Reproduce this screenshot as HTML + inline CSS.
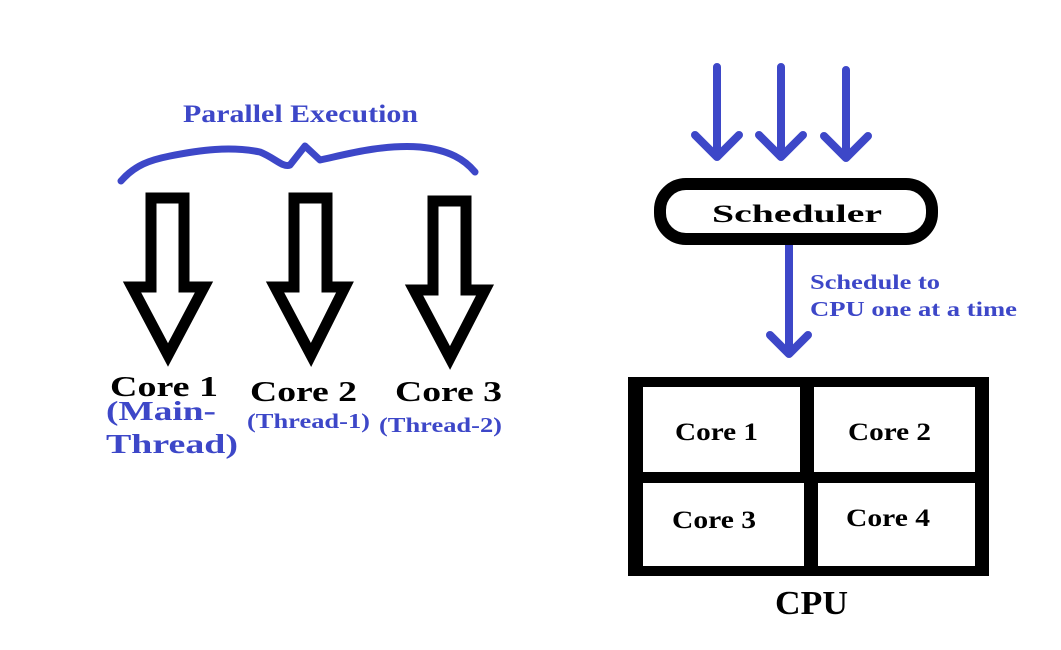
<!DOCTYPE html>
<html><head><meta charset="utf-8"><style>
html,body{margin:0;padding:0;background:#fff;}
svg{display:block;}
text{font-family:"Liberation Serif",serif;font-weight:bold;}
</style></head><body>
<svg width="1061" height="650" viewBox="0 0 1061 650" xmlns="http://www.w3.org/2000/svg">
<rect width="1061" height="650" fill="#fff"/>
<!-- Left side -->
<text x="183" y="122" textLength="235" lengthAdjust="spacingAndGlyphs" font-size="25" fill="#3d47c8">Parallel Execution</text>
<path d="M121,181 C135,165 150,160 170,156 C200,150 230,146 260,152 C275,158 283,168 290,165 L305,146 L320,160 C340,156 380,144 420,147 C450,150 465,160 475,172" fill="none" stroke="#3d47c8" stroke-width="7" stroke-linecap="round" stroke-linejoin="round"/>
<g fill="#fff" stroke="#000" stroke-width="11" stroke-linejoin="miter">
<polygon points="151,198 184,198 184,287 204,287 168,355 132,287 151,287"/>
<polygon points="294,198 327,198 327,287 345,287 311,355 275,287 294,287"/>
<polygon points="433,201 466,201 466,290 485,290 450,358 414,290 433,290"/>
</g>
<g font-size="28" fill="#000">
<text x="110" y="396" textLength="108" lengthAdjust="spacingAndGlyphs">Core 1</text>
<text x="250" y="401" textLength="107" lengthAdjust="spacingAndGlyphs">Core 2</text>
<text x="395" y="401" textLength="107" lengthAdjust="spacingAndGlyphs">Core 3</text>
</g>
<g fill="#3d47c8">
<text x="106" y="420" font-size="27" textLength="110" lengthAdjust="spacingAndGlyphs">(Main-</text>
<text x="106" y="453" font-size="27" textLength="132" lengthAdjust="spacingAndGlyphs">Thread)</text>
<text x="247" y="428" font-size="21" textLength="123" lengthAdjust="spacingAndGlyphs">(Thread-1)</text>
<text x="379" y="432" font-size="21" textLength="123" lengthAdjust="spacingAndGlyphs">(Thread-2)</text>
</g>
<!-- Right side -->
<g stroke="#3d47c8" stroke-width="8" stroke-linecap="round" stroke-linejoin="round" fill="none">
<path d="M717,67 L717,157 M695,135 L717,157 L739,135"/>
<path d="M781,67 L781,157 M759,135 L781,157 L803,135"/>
<path d="M846,70 L846,158 M824,136 L846,158 L868,136"/>
<path d="M789,234 L789,354 M770,335 L789,354 L808,335"/>
</g>
<rect x="660" y="184" width="272" height="55" rx="26" fill="#fff" stroke="#000" stroke-width="12"/>
<text x="712" y="222" textLength="170" lengthAdjust="spacingAndGlyphs" font-size="25" fill="#000">Scheduler</text>
<text x="810" y="289" font-size="21" fill="#3d47c8" textLength="130" lengthAdjust="spacingAndGlyphs">Schedule to</text>
<text x="810" y="316" font-size="21" fill="#3d47c8" textLength="207" lengthAdjust="spacingAndGlyphs">CPU one at a time</text>
<rect x="628" y="377" width="361" height="199" fill="#000"/>
<rect x="643" y="387" width="157" height="85" fill="#fff"/>
<rect x="814" y="387" width="161" height="85" fill="#fff"/>
<rect x="643" y="483" width="161" height="83" fill="#fff"/>
<rect x="818" y="483" width="157" height="83" fill="#fff"/>
<g font-size="25" fill="#000">
<text x="675" y="440" textLength="83" lengthAdjust="spacingAndGlyphs">Core 1</text>
<text x="848" y="440" textLength="83" lengthAdjust="spacingAndGlyphs">Core 2</text>
<text x="672" y="528" textLength="84" lengthAdjust="spacingAndGlyphs">Core 3</text>
<text x="846" y="526" textLength="84" lengthAdjust="spacingAndGlyphs">Core 4</text>
</g>
<text x="775" y="614" textLength="73" lengthAdjust="spacingAndGlyphs" font-size="34" fill="#000">CPU</text>
</svg>
</body></html>
